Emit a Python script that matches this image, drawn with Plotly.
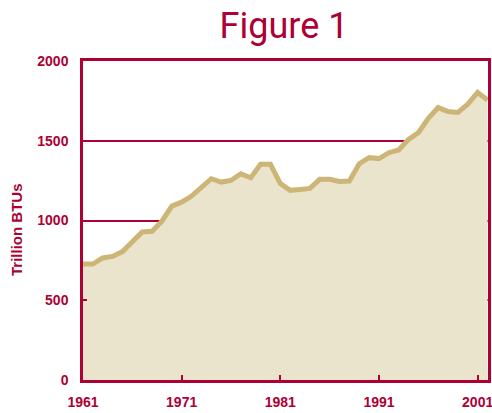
import plotly.graph_objects as go

years = list(range(1961, 2003))
btus = [727, 727, 765, 775, 805, 865, 928, 932, 996, 1090,
        1115, 1153, 1211, 1262, 1241, 1251, 1293, 1268, 1352, 1352,
        1231, 1189, 1195, 1201, 1258, 1258, 1245, 1247, 1356, 1394,
        1388, 1425, 1442, 1509, 1551, 1641, 1708, 1683, 1677, 1729,
        1803, 1755]
x_ticks = [1961, 1971, 1981, 1991, 2001]
y_ticks = [0, 500, 1000, 1500, 2000]

RED = "#AD0034"
FILL = "#EBE4CD"
LINE = "#CDB577"
FONT = "Liberation Sans"

W, H = 492, 413
L, R, T, B = 83, 4, 61, 33
pw, ph = W - L - R, H - T - B

fig = go.Figure()
fig.add_trace(go.Scatter(
    x=years, y=btus, mode="lines", fill="tozeroy",
    fillcolor=FILL, line=dict(color=LINE, width=5), hoverinfo="skip",
))

fig.update_layout(
    width=W, height=H,
    margin=dict(l=L, r=R, t=T, b=B, autoexpand=False),
    paper_bgcolor="white", plot_bgcolor="white",
    showlegend=False,
    title=dict(text="Figure 1", x=284 / W, xanchor="center", y=1 - 25 / H,
               yanchor="middle", yref="container",
               font=dict(family="Roboto", size=36, color=RED, weight=400)),
    xaxis=dict(range=[1961, 2002.05], tickvals=x_ticks,
               ticktext=[str(v) for v in x_ticks],
               showgrid=False, zeroline=False,
               showline=True, linecolor=RED, linewidth=2.5, mirror=True,
               ticks="inside", ticklen=5, tickwidth=2, tickcolor=RED,
               tickfont=dict(family=FONT, size=14, color=RED, weight="bold"),
               ticklabelstandoff=7, ticklabeloverflow="allow"),
    yaxis=dict(range=[0, 2000], tickvals=y_ticks,
               ticktext=[str(v) for v in y_ticks],
               showgrid=True, gridcolor=RED, gridwidth=2, zeroline=False,
               showline=True, linecolor=RED, linewidth=2.5, mirror=True,
               ticks="inside", ticklen=4, tickwidth=2, tickcolor=RED,
               tickfont=dict(family=FONT, size=14, color=RED, weight="bold"),
               ticklabelstandoff=9, ticklabeloverflow="allow"),
    annotations=[dict(
        text="Trillion BTUs", textangle=-90, showarrow=False,
        xref="paper", yref="paper",
        x=(16 - L) / pw, y=(H - B - 230) / ph,
        xanchor="center", yanchor="middle",
        font=dict(family=FONT, size=15, color=RED, weight="bold"),
    )],
)

fig.write_html("out.html", config={"displayModeBar": False},
               post_script="document.body.style.margin='0';")
